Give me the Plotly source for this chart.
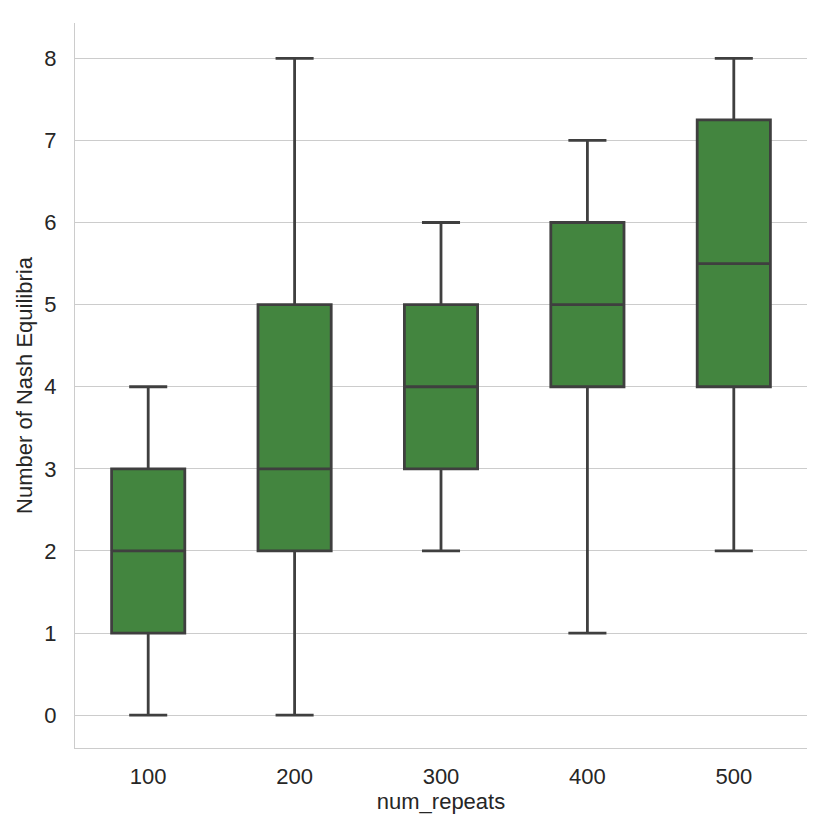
import plotly.graph_objects as go

categories = ["100", "200", "300", "400", "500"]
lower = [0, 0, 2, 1, 2]
q1 = [1, 2, 3, 4, 4]
median = [2, 3, 4, 5, 5.5]
q3 = [3, 5, 5, 6, 7.25]
upper = [4, 8, 6, 7, 8]
y_ticks = [0, 1, 2, 3, 4, 5, 6, 7, 8]

FONT = "Liberation Sans, Arial, sans-serif"

fig = go.Figure()
fig.add_trace(go.Box(
    x=categories,
    q1=q1, median=median, q3=q3,
    lowerfence=lower, upperfence=upper,
    fillcolor="#43853f",
    line=dict(color="#3f3f3f", width=2.8),
    width=0.5,
    whiskerwidth=0.52,
    boxpoints=False,
    showlegend=False,
    hoverinfo="skip",
))

# page body has an 8px margin, so the figure is 823 px and margins are shifted
fig.update_layout(
    width=823, height=823,
    margin=dict(l=67, r=24, t=15, b=83),
    paper_bgcolor="white", plot_bgcolor="white",
    font=dict(family=FONT, size=22, color="#262626"),
)
fig.update_xaxes(
    type="category",
    range=[-0.5, 4.5],
    automargin=False,
    showgrid=False,
    showline=True, linecolor="#cccccc", linewidth=1.3,
    ticks="outside", ticklen=8, tickcolor="rgba(0,0,0,0)",
    tickfont=dict(size=22, color="#262626"),
    title=dict(text="num_repeats", font=dict(size=22, color="#262626"), standoff=5),
)
fig.update_yaxes(
    range=[-0.4, 8.43],
    tickvals=y_ticks,
    automargin=False,
    showgrid=True, gridcolor="#cccccc", gridwidth=1.3,
    zeroline=False,
    showline=True, linecolor="#cccccc", linewidth=1.3,
    ticks="outside", ticklen=13, tickcolor="rgba(0,0,0,0)",
    tickfont=dict(size=22, color="#262626"),
    title=dict(text="Number of Nash Equilibria", font=dict(size=22, color="#262626"), standoff=5),
)

fig.write_html("out.html")
